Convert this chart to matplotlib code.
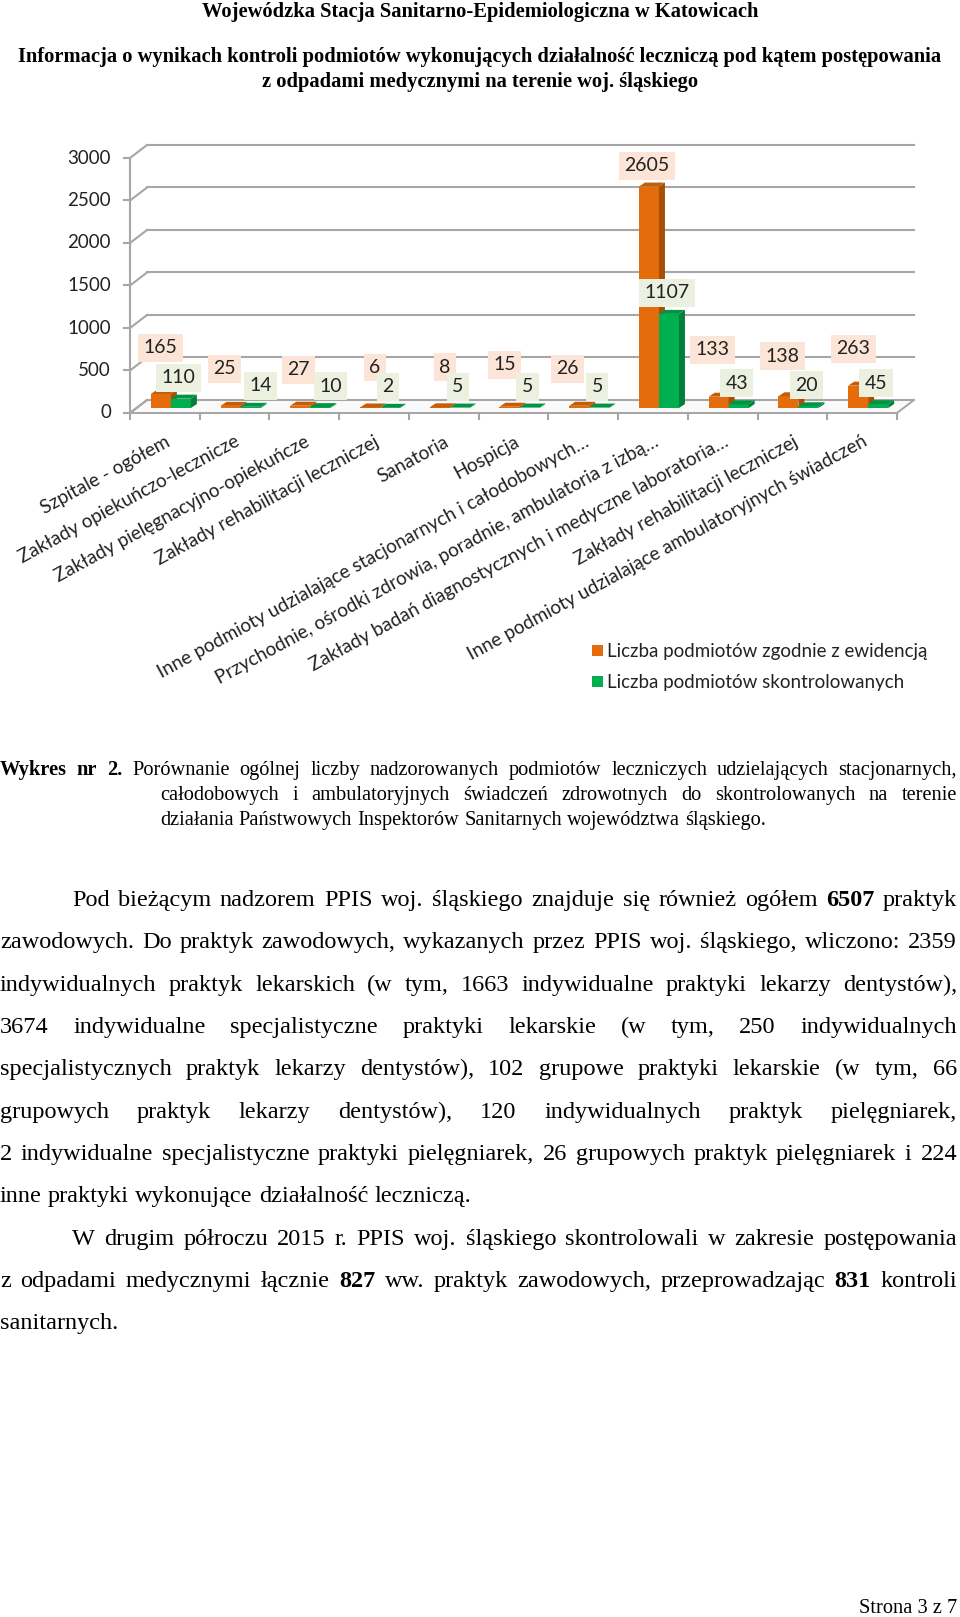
import matplotlib
matplotlib.use("Agg")
import matplotlib.pyplot as plt
from matplotlib.transforms import ScaledTranslation, IdentityTransform
from matplotlib.patches import Polygon, Rectangle
from matplotlib.lines import Line2D

# --- data -------------------------------------------------------------
categories = [
    "Szpitale - ogółem",
    "Zakłady opiekuńczo-lecznicze",
    "Zakłady pielęgnacyjno-opiekuńcze",
    "Zakłady rehabilitacji leczniczej",
    "Sanatoria",
    "Hospicja",
    "Inne podmioty udzialające stacjonarnych i całodobowych…",
    "Przychodnie, ośrodki zdrowia, poradnie, ambulatoria z izbą…",
    "Zakłady badań diagnostycznych i medyczne laboratoria…",
    "Zakłady rehabilitacji leczniczej",
    "Inne podmioty udzialające ambulatoryjnych świadczeń",
]
ewidencja = [165, 25, 27, 6, 8, 15, 26, 2605, 133, 138, 263]
skontrolowane = [110, 14, 10, 2, 5, 5, 5, 1107, 43, 20, 45]
series_names = ["Liczba podmiotów zgodnie z ewidencją",
                "Liczba podmiotów skontrolowanych"]
y_ticks = [0, 500, 1000, 1500, 2000, 2500, 3000]

header = ["Wojewódzka Stacja Sanitarno-Epidemiologiczna w Katowicach",
          "Informacja o wynikach kontroli podmiotów wykonujących działalność leczniczą pod kątem postępowania",
          "z odpadami medycznymi na terenie woj. śląskiego"]
caption = [
    "**Wykres** **nr** **2.** Porównanie ogólnej liczby nadzorowanych podmiotów leczniczych udzielających stacjonarnych,",
    "całodobowych i ambulatoryjnych świadczeń zdrowotnych do skontrolowanych na terenie",
    "działania Państwowych Inspektorów Sanitarnych województwa  śląskiego.",
]
body = [
    "Pod bieżącym nadzorem PPIS woj. śląskiego znajduje się również ogółem **6507** praktyk",
    "zawodowych. Do praktyk zawodowych, wykazanych przez PPIS woj. śląskiego, wliczono: 2359",
    "indywidualnych praktyk lekarskich (w tym, 1663 indywidualne praktyki lekarzy dentystów),",
    "3674 indywidualne specjalistyczne praktyki lekarskie (w tym, 250 indywidualnych",
    "specjalistycznych praktyk lekarzy dentystów), 102 grupowe praktyki lekarskie (w tym, 66",
    "grupowych praktyk lekarzy dentystów), 120 indywidualnych praktyk pielęgniarek,",
    "2 indywidualne specjalistyczne praktyki pielęgniarek, 26 grupowych praktyk pielęgniarek i 224",
    "inne praktyki wykonujące działalność leczniczą.",
    "W drugim półroczu 2015 r. PPIS woj. śląskiego skontrolowali w zakresie postępowania",
    "z odpadami medycznymi łącznie **827** ww. praktyk zawodowych, przeprowadzając **831** kontroli",
    "sanitarnych.",
]

# --- layout / style ---------------------------------------------------
W, H = 960, 1617
ORANGE, ORANGE_SIDE, ORANGE_TOP = "#e46c0a", "#a84f06", "#c45c08"
GREEN, GREEN_SIDE, GREEN_TOP = "#00b050", "#00803a", "#009443"
GRID = "#a6a6a6"
SANS = "Lato"
SERIF = "Liberation Serif"

# label nudges in pixels (Excel moved them around)
orange_dx = [0, -6, -2, 5, 5, -5, -12, -2, -6, -6, -5]
orange_lift = [46, 37, 36, 40, 40, 42, 37, 21, 47, 40, 37]
green_dx = [-2, 10, 10, -2, -2, -2, -2, -2, -2, -2, -2]
green_lift = [21] * 11

fig = plt.figure(figsize=(W / 100, H / 100), dpi=100)
fig.patch.set_facecolor("white")
ident = IdentityTransform()


def fy(y):
    return 1 - y / H


ax = fig.add_axes([136 / W, fy(408), 767 / W, 255 / H])
ax.set_xlim(-0.5, len(categories) - 0.5)
ax.set_ylim(0, 3000)
ax.axis("off")


def shift(dx, dy):
    return ax.transData + ScaledTranslation(dx / 100, dy / 100, fig.dpi_scale_trans)


front = shift(-6, -5)
back = shift(11, 8)
x_lo, x_hi = -0.5, len(categories) - 0.5

# floor
corners = [front.transform((x_lo, 0)), front.transform((x_hi, 0)),
           back.transform((x_hi, 0)), back.transform((x_lo, 0))]
ax.add_patch(Polygon(corners, closed=True, transform=ident, fc="#fafafa",
                     ec=GRID, lw=1.4, clip_on=False, zorder=1))

# back wall grid + left wall diagonals + y ticks
for v in y_ticks:
    ax.plot([x_lo, x_hi], [v, v], transform=back, color=GRID, lw=1.5,
            clip_on=False, zorder=1)
    a = front.transform((x_lo, v))
    b = back.transform((x_lo, v))
    ax.add_line(Line2D([a[0], b[0]], [a[1], b[1]], transform=ident,
                       color=GRID, lw=1.5, clip_on=False, zorder=1))
    ax.add_line(Line2D([a[0] - 6, a[0]], [a[1], a[1]], transform=ident,
                       color=GRID, lw=1.5, clip_on=False, zorder=1))
    ax.text(x_lo, v, str(v), transform=shift(-25, -5), ha="right", va="center",
            fontsize=13.5, family=SANS, color="#222222")

ax.plot([x_lo, x_lo], [0, 3000], transform=front, color=GRID, lw=1.5,
        clip_on=False, zorder=1)
for k in range(len(categories) + 1):
    p = front.transform((k - 0.5, 0))
    ax.add_line(Line2D([p[0], p[0]], [p[1], p[1] - 6], transform=ident,
                       color=GRID, lw=1.5, clip_on=False, zorder=1))

# bars
bw = 20 / 69.7
xs = list(range(len(categories)))


def bars(offset, vals, c_front, c_side, c_top):
    ax.bar([x + offset for x in xs], vals, width=bw, color=c_front, zorder=3,
           clip_on=False)
    for x, v in zip(xs, vals):
        x0, y0 = ax.transData.transform((x + offset - bw / 2, 0))
        x1, y1 = ax.transData.transform((x + offset + bw / 2, v))
        dx, dy = 6, 4
        ax.add_patch(Polygon([(x1, y0), (x1, y1), (x1 + dx, y1 + dy), (x1 + dx, y0 + dy)],
                             transform=ident, fc=c_side, ec="none", zorder=3, clip_on=False))
        ax.add_patch(Polygon([(x0, y1), (x1, y1), (x1 + dx, y1 + dy), (x0 + dx, y1 + dy)],
                             transform=ident, fc=c_top, ec="none", zorder=3, clip_on=False))


bars(-bw / 2, ewidencja, ORANGE, ORANGE_SIDE, ORANGE_TOP)
bars(bw / 2, skontrolowane, GREEN, GREEN_SIDE, GREEN_TOP)

# data labels
for i, v in enumerate(ewidencja):
    ax.annotate(str(v), (i - bw / 2, v), xytext=(orange_dx[i], orange_lift[i]),
                textcoords="offset pixels", ha="center", va="center",
                fontsize=14, family=SANS, color="#222222", zorder=5,
                bbox=dict(boxstyle="square,pad=0.28", fc="#fce4d6", ec="none"))
for i, v in enumerate(skontrolowane):
    ax.annotate(str(v), (i + bw / 2, v), xytext=(green_dx[i], green_lift[i]),
                textcoords="offset pixels", ha="center", va="center",
                fontsize=14, family=SANS, color="#222222", zorder=5,
                bbox=dict(boxstyle="square,pad=0.28", fc="#ebf1de", ec="none"))

# category labels
for i, name in enumerate(categories):
    ax.text(i, 0, name, transform=shift(-6, -25), rotation=28.5,
            rotation_mode="anchor", ha="right", va="top", fontsize=13.7,
            family=SANS, color="#222222")

# legend
for k, (name, col) in enumerate(zip(series_names, [ORANGE, GREEN])):
    yc = 651 + 31 * k
    fig.add_artist(Rectangle((592 / W, fy(yc + 5.5)), 11 / W, 11 / H,
                             transform=fig.transFigure, fc=col, ec="none"))
    fig.text(607 / W, fy(yc), name, ha="left", va="center", fontsize=13.5,
             family=SANS, color="#222222")

# --- document text ----------------------------------------------------
renderer = fig.canvas.get_renderer()


def text_width(s, size, bold=False):
    t = fig.text(0, 0, s, fontsize=size, family=SERIF,
                 fontweight="bold" if bold else "normal")
    w = t.get_window_extent(renderer).width
    t.remove()
    return w


def put_line(line, y, x0, x1, size, justify=True):
    words = []
    for w in line.split():
        bold = w.startswith("**") and w.endswith("**")
        words.append((w.strip("*"), bold))
    texts = [fig.text(0, fy(y), w, fontsize=size, family=SERIF, va="baseline",
                      ha="left", fontweight="bold" if b else "normal")
             for w, b in words]
    widths = [t.get_window_extent(renderer).width for t in texts]
    if justify and len(texts) > 1:
        gap = (x1 - x0 - sum(widths)) / (len(texts) - 1)
    else:
        gap = text_width("a a", size) - text_width("aa", size)
    x = x0
    for t, wd in zip(texts, widths):
        t.set_x(x / W)
        x += wd + gap


for line, y in zip(header, [17, 62, 87]):
    fig.text(480 / W, fy(y), line, ha="center", va="baseline", fontsize=14.8,
             fontweight="bold", family=SERIF)

cap_y = [775, 800, 825]
put_line(caption[0], cap_y[0], 0, 957, 14.7)
put_line(caption[1], cap_y[1], 160, 957, 14.7)
put_line(caption[2], cap_y[2], 160, 957, 14.7, justify=False)

body_y = [906 + 42.35 * i for i in range(len(body))]
indent = {0, 8}
last = {7, 10}
for i, line in enumerate(body):
    put_line(line, body_y[i], 72 if i in indent else 0, 957, 17.5,
             justify=i not in last)

fig.text(957 / W, fy(1613), "Strona 3 z 7", ha="right", va="baseline",
         fontsize=14.7, family=SERIF)

fig.savefig("out.png", dpi=100, facecolor="white")
